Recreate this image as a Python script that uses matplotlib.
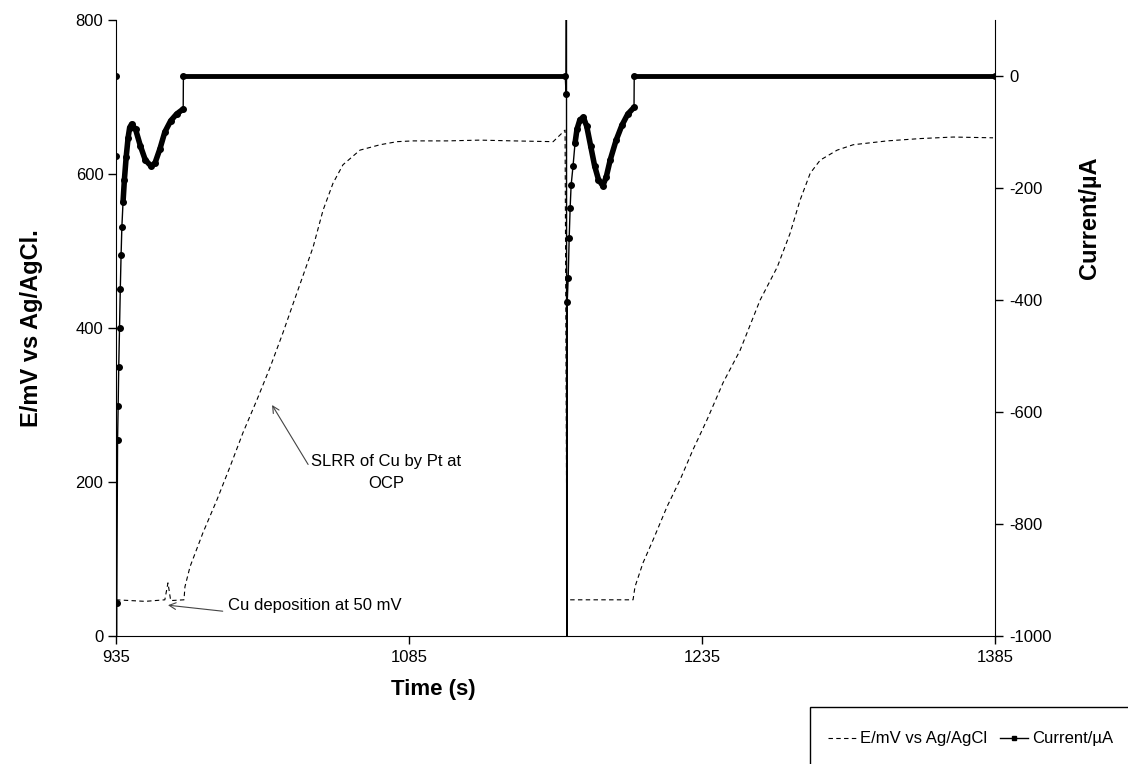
import matplotlib
matplotlib.use("Agg")
import matplotlib.pyplot as plt
from matplotlib.patches import Rectangle
import numpy as np

plt.rcParams['font.family'] = ['Liberation Sans', 'DejaVu Sans']
plt.rcParams['axes.unicode_minus'] = False

# potential trace, E/mV vs Ag/AgCl
t_E = [935.0, 950.0, 960.0, 961.6, 963.0, 969.8, 970.3, 972.9, 979.5, 986.7, 993.4,
       1000.0, 1007.2, 1013.9, 1020.5, 1026.7, 1035.9, 1041.0, 1046.1, 1051.2,
       1059.9, 1070.2, 1078.9, 1087.1, 1104.5, 1121.4, 1138.3, 1158.8, 1164.9,
       1165.9, 1199.7, 1200.7, 1204.8, 1210.0, 1217.1, 1223.8, 1230.4, 1237.6,
       1245.8, 1254.5, 1264.7, 1273.5, 1280.1, 1285.2, 1290.4, 1295.5, 1304.2,
       1312.4, 1329.8, 1346.7, 1363.6, 1384.0]
E = [47, 45, 47, 69, 46, 47, 64, 90, 134, 177, 220,
     264, 307, 349, 394, 439, 505, 553, 588, 612,
     631, 638, 642, 643, 643, 644, 643, 642, 657,
     47, 47, 64, 95, 125, 168, 203, 242, 281,
     329, 371, 436, 479, 523, 566, 601, 618, 631,
     638, 643, 646, 648, 647]

# current trace, µA
t_I = [935.0, 935.1, 935.2, 935.4, 935.8, 936.1, 936.4, 936.8, 937.2, 937.6,
       938.0, 938.6, 939.3, 940.2, 941.2, 942.0, 943.0, 945.0, 947.5, 950.0,
       953.0, 955.0, 957.5, 960.0, 963.0, 966.0, 969.4, 969.5, 1165.0, 1165.4,
       1165.6, 1165.8, 1166.0, 1166.5, 1167.0, 1167.5, 1168.0, 1169.0, 1170.0,
       1171.0, 1172.5, 1174.3, 1176.0, 1178.0, 1180.0, 1182.0, 1184.2, 1186.0,
       1188.0, 1191.0, 1194.0, 1197.0, 1200.2, 1200.3, 1385.0]
I = [0, -143, -1500, -941, -650, -590, -520, -450, -380, -320,
     -270, -225, -185, -145, -110, -92, -86, -95, -125, -150,
     -161, -155, -130, -100, -80, -68, -59, 0, 0, -32,
     300, -1500, -404, -360, -290, -235, -195, -160, -120,
     -95, -78, -74, -90, -125, -160, -185, -196, -180,
     -150, -115, -88, -68, -56, 0, 0]

x_ticks = [935, 1085, 1235, 1385]

fig = plt.figure(figsize=(11.28, 7.64), dpi=100)
ax = fig.add_axes([116/1128, 1-636/764, 879/1128, 616/764])
ax2 = ax.twinx()

lE, = ax.plot(t_E, E, color='black', lw=0.8, ls=(0, (4, 3)), label='E/mV vs Ag/AgCl')

t_I = np.array(t_I)
I = np.array(I)
ax2.plot(t_I, I, color='black', lw=1.0, marker='o', ms=4)
# dense sampling makes the trace look heavy where the markers overlap
ax2.plot(t_I[11:27], I[11:27], color='black', lw=4, solid_capstyle='round')
ax2.plot(t_I[38:53], I[38:53], color='black', lw=4, solid_capstyle='round')
flat = I == 0
ax2.plot(t_I[flat][1:3], I[flat][1:3], color='black', lw=3.5)
ax2.plot(t_I[flat][3:], I[flat][3:], color='black', lw=3.5)
lI, = ax2.plot([], [], color='black', lw=1.0, marker='s', ms=2.5, label='Current/µA')

ax.set_xlim(935, 1385)
ax.set_ylim(0, 800)
ax2.set_ylim(-1000, 100)
ax.set_xticks(x_ticks)
ax.set_yticks(range(0, 801, 200))
ax2.set_yticks(range(-1000, 1, 200))

for a in (ax, ax2):
    a.spines['top'].set_visible(False)
    a.tick_params(direction='out', length=6, width=1, labelsize=12, colors='black', pad=4)
ax.tick_params(axis='y', pad=3)
ax.spines['right'].set_visible(False)
ax2.spines['left'].set_visible(False)
ax2.spines['bottom'].set_visible(False)

ax.set_xlabel('Time (s)', fontsize=16, fontweight='bold')
ax.xaxis.set_label_coords((433-116)/879, -0.07)
ax.set_ylabel('E/mV vs Ag/AgCl.', fontsize=17, fontweight='bold')
ax.yaxis.set_label_coords((43-116)/879, 0.5)
ax2.set_ylabel('Current/µA', fontsize=17, fontweight='bold')
ax2.yaxis.set_label_coords((1078-116)/879, (636-218)/616)

arrow = dict(arrowstyle='->', color='#444444', lw=0.8, shrinkA=0, shrinkB=0)
ax.annotate('SLRR of Cu by Pt at\nOCP', xy=(1014.9, 300), xytext=(1073.2, 212),
            fontsize=12, ha='center', va='center', multialignment='center',
            linespacing=1.6, arrowprops=dict(arrow, relpos=(0, 0.6)))
ax.annotate('Cu deposition at 50 mV', xy=(961.6, 40), xytext=(992.3, 40),
            fontsize=12, ha='left', va='center',
            arrowprops=dict(arrow, relpos=(-0.03, 0.1)))

# legend box runs off the right and bottom edges of the figure
fig.patches.append(Rectangle((810/1128, -0.1), 0.4, 0.1 + (764-707)/764,
                             transform=fig.transFigure, facecolor='white',
                             edgecolor='black', lw=1.0))
fig.legend(handles=[lE, lI], loc='center left', ncol=2,
           bbox_to_anchor=(828/1128, 1-739/764), frameon=False,
           fontsize=12, borderpad=0, borderaxespad=0,
           handlelength=1.7, handletextpad=0.2, columnspacing=0.8)

fig.savefig('out.png', dpi=100)
